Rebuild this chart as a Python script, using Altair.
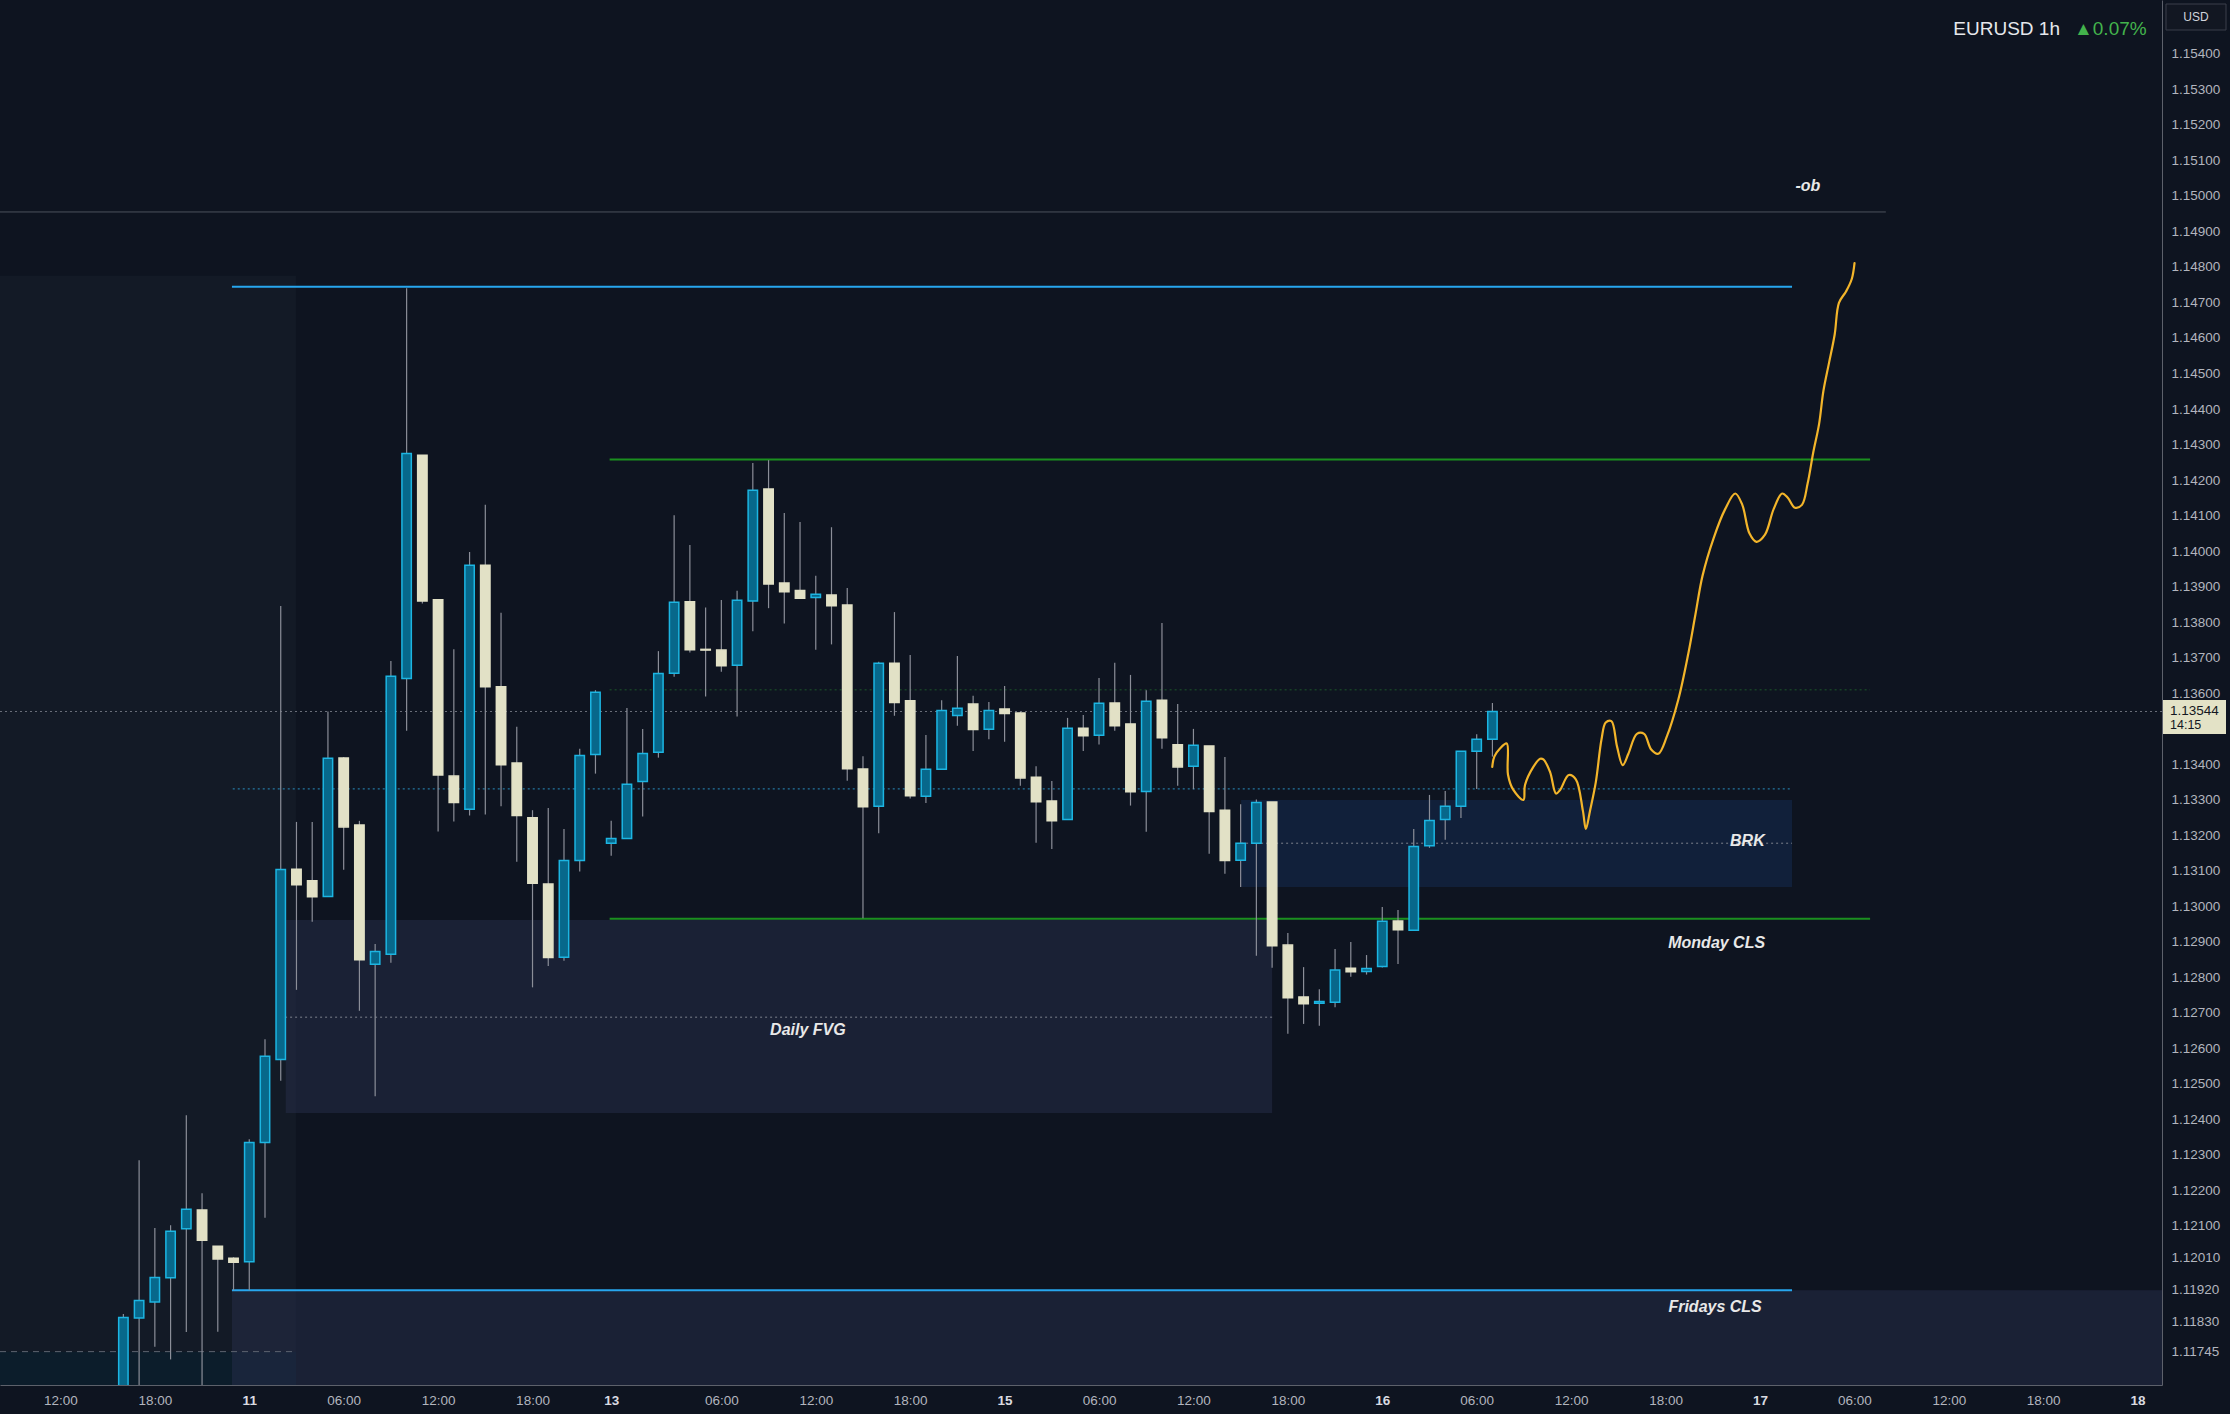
import json
import altair as alt
import pandas as pd

BG = "#0e1420"
FONT = "Liberation Sans"

# ---------------- candle data (bar index = trading hours since Thu 12:00) ----------------
bar_index = list(range(4, 92))
opens = [1.11600, 1.11840, 1.11885, 1.11953, 1.12091, 1.12144, 1.12042, 1.12008, 1.11998, 1.12334,
         1.12568, 1.13104, 1.13071, 1.13027, 1.13417, 1.13228, 1.12836, 1.12864, 1.13641, 1.14270,
         1.13863, 1.13366, 1.13273, 1.13960, 1.13618, 1.13403, 1.13249, 1.13062, 1.12856, 1.13128,
         1.13427, 1.13177, 1.13190, 1.13351, 1.13433, 1.13656, 1.13857, 1.13723, 1.13721, 1.13678,
         1.13859, 1.14175, 1.13910, 1.13889, 1.13869, 1.13876, 1.13848, 1.13386, 1.13281, 1.13684,
         1.13578, 1.13309, 1.13385, 1.13537, 1.13569, 1.13498, 1.13555, 1.13544, 1.13363, 1.13296,
         1.13244, 1.13501, 1.13481, 1.13572, 1.13513, 1.13323, 1.13580, 1.13454, 1.13394, 1.13451,
         1.13270, 1.13129, 1.13177, 1.13293, 1.12890, 1.12744, 1.12726, 1.12729, 1.12825, 1.12816,
         1.12830, 1.12958, 1.12932, 1.13170, 1.13244, 1.13281, 1.13436, 1.13470]
highs = [1.11851, 1.12284, 1.12093, 1.12101, 1.12411, 1.12191, 1.12042, 1.12011, 1.12343, 1.12625,
         1.13845, 1.13237, 1.13237, 1.13548, 1.13420, 1.13240, 1.12893, 1.13690, 1.14740, 1.14270,
         1.13863, 1.13723, 1.13997, 1.14130, 1.13826, 1.13505, 1.13270, 1.13276, 1.13217, 1.13443,
         1.13608, 1.13240, 1.13558, 1.13499, 1.13718, 1.14101, 1.14017, 1.13841, 1.13862, 1.13888,
         1.14248, 1.14256, 1.14107, 1.14082, 1.13930, 1.14067, 1.13896, 1.13422, 1.13688, 1.13828,
         1.13707, 1.13482, 1.13580, 1.13704, 1.13592, 1.13575, 1.13620, 1.13547, 1.13394, 1.13352,
         1.13530, 1.13538, 1.13642, 1.13685, 1.13651, 1.13608, 1.13797, 1.13569, 1.13499, 1.13451,
         1.13420, 1.13287, 1.13300, 1.13293, 1.12924, 1.12828, 1.12766, 1.12879, 1.12899, 1.12862,
         1.12997, 1.12989, 1.13217, 1.13313, 1.13324, 1.13436, 1.13484, 1.13572]
lows = [1.11550, 1.11580, 1.11759, 1.11723, 1.11800, 1.11580, 1.11801, 1.11918, 1.11918, 1.12122,
        1.12508, 1.12764, 1.12956, 1.13027, 1.13102, 1.12705, 1.12464, 1.12840, 1.13494, 1.13852,
        1.13210, 1.13238, 1.13255, 1.13258, 1.13281, 1.13125, 1.12771, 1.12831, 1.12846, 1.13097,
        1.13373, 1.13142, 1.13190, 1.13252, 1.13418, 1.13646, 1.13714, 1.13590, 1.13660, 1.13534,
        1.13774, 1.13839, 1.13796, 1.13867, 1.13722, 1.13737, 1.13353, 1.12966, 1.13205, 1.13536,
        1.13303, 1.13290, 1.13385, 1.13508, 1.13437, 1.13470, 1.13463, 1.13339, 1.13178, 1.13161,
        1.13244, 1.13437, 1.13455, 1.13494, 1.13283, 1.13209, 1.13443, 1.13339, 1.13329, 1.13147,
        1.13091, 1.13054, 1.12860, 1.12826, 1.12640, 1.12668, 1.12663, 1.12715, 1.12801, 1.12807,
        1.12827, 1.12837, 1.12932, 1.13164, 1.13187, 1.13248, 1.13330, 1.13421]
closes = [1.11841, 1.11889, 1.11954, 1.12084, 1.12146, 1.12059, 1.12006, 1.11997, 1.12334, 1.12577,
          1.13103, 1.13060, 1.13026, 1.13416, 1.13223, 1.12849, 1.12872, 1.13647, 1.14275, 1.13859,
          1.13369, 1.13292, 1.13960, 1.13618, 1.13398, 1.13255, 1.13064, 1.12855, 1.13128, 1.13424,
          1.13602, 1.13190, 1.13343, 1.13430, 1.13655, 1.13856, 1.13722, 1.13721, 1.13677, 1.13861,
          1.14171, 1.13907, 1.13885, 1.13867, 1.13878, 1.13846, 1.13387, 1.13280, 1.13684, 1.13573,
          1.13311, 1.13385, 1.13551, 1.13557, 1.13497, 1.13551, 1.13542, 1.13361, 1.13294, 1.13240,
          1.13501, 1.13480, 1.13571, 1.13508, 1.13322, 1.13577, 1.13474, 1.13392, 1.13453, 1.13266,
          1.13128, 1.13177, 1.13292, 1.12888, 1.12742, 1.12725, 1.12731, 1.12820, 1.12815, 1.12824,
          1.12957, 1.12933, 1.13168, 1.13241, 1.13281, 1.13436, 1.13470, 1.13548]

# ---------------- axis ticks ----------------
xtick_vals = [0, 6, 12, 18, 24, 30, 35, 42, 48, 54, 60, 66, 72, 78, 84, 90, 96, 102, 108, 114, 120, 126, 132]
xtick_text = ["12:00", "18:00", "11", "06:00", "12:00", "18:00", "13", "06:00", "12:00", "18:00", "15",
              "06:00", "12:00", "18:00", "16", "06:00", "12:00", "18:00", "17", "06:00", "12:00", "18:00", "18"]
day_ticks = [12, 35, 60, 84, 108, 132]
ytick_vals = [1.154, 1.153, 1.152, 1.151, 1.150, 1.149, 1.148, 1.147, 1.146, 1.145, 1.144, 1.143,
              1.142, 1.141, 1.140, 1.139, 1.138, 1.137, 1.136, 1.134, 1.133, 1.132, 1.131, 1.130,
              1.129, 1.128, 1.127, 1.126, 1.125, 1.124, 1.123, 1.122, 1.121, 1.1201, 1.1192, 1.1183, 1.11745]

# ---------------- zones ----------------
zone_names = ["left", "teal", "fridays", "fvg", "brk"]
zone_x0 = [-3.84, -3.84, 10.9, 14.32, 75.03]
zone_x1 = [14.97, 14.97, 133.55, 77.0, 110.04]
zone_lo = [1.1100, 1.1100, 1.1100, 1.12417, 1.13054]
zone_hi = [1.14775, 1.11745, 1.11918, 1.12961, 1.13299]

# ---------------- horizontal levels ----------------
solid_names = ["ob", "high", "green_top", "monday", "fridays"]
solid_price = [1.14955, 1.14744, 1.14258, 1.12964, 1.11918]
solid_x0 = [-3.84, 10.9, 34.9, 34.9, 10.9]
solid_x1 = [116.0, 110.04, 115.0, 115.0, 110.04]

dot_names = ["green_dot", "last_price", "blue_dot", "brk_mid", "fvg_mid"]
dot_price = [1.13609, 1.13548, 1.13330, 1.13177, 1.12687]
dot_x0 = [34.9, -3.84, 10.95, 75.03, 13.96]
dot_x1 = [115.0, 133.55, 110.04, 110.04, 77.0]

dash_price = [1.11745]
dash_x0 = [-3.84]
dash_x1 = [14.8]

# ---------------- annotations ----------------
label_text = ["-ob", "BRK", "Monday CLS", "Daily FVG", "Fridays CLS"]
label_x = [111.05, 107.2, 105.25, 47.5, 105.15]
label_y = [1.15028, 1.13184, 1.12896, 1.12651, 1.11870]

# ---------------- projected path ----------------
proj_x = [90.99, 91.12, 91.48, 91.91, 91.99, 92.33, 92.97, 93.07, 93.60, 94.03, 94.24, 94.66, 95.04, 95.30,
          95.85, 96.30, 96.75, 96.94, 97.20, 97.57, 97.93, 98.20, 98.56, 98.92, 99.28, 99.64, 100.18,
          100.64, 101.09, 101.54, 102.08, 102.81, 103.44, 103.90, 104.35, 105.07, 105.79, 106.43, 106.88,
          107.33, 107.78, 108.32, 108.87, 109.41, 109.77, 110.22, 110.67, 111.03, 111.39, 111.76, 112.03,
          112.39, 112.75, 113.02, 113.47, 113.84, 114.01]
proj_y = [1.13392, 1.13421, 1.13444, 1.13458, 1.13370, 1.13327, 1.13299, 1.13341, 1.13392, 1.13415,
          1.13413, 1.13378, 1.13317, 1.13327, 1.13369, 1.13357, 1.13268, 1.13217, 1.13268, 1.13349,
          1.13469, 1.13517, 1.13521, 1.13449, 1.13397, 1.13429, 1.13485, 1.13485, 1.13441, 1.13429,
          1.13477, 1.13581, 1.13709, 1.13821, 1.13930, 1.14038, 1.14118, 1.14162, 1.14130, 1.14050,
          1.14026, 1.14046, 1.14118, 1.14162, 1.14150, 1.14122, 1.14130, 1.14190, 1.14278, 1.14358,
          1.14450, 1.14530, 1.14610, 1.14699, 1.14731, 1.14767, 1.14811]

symbol_text = "EURUSD 1h"
change_text = "▲0.07%"
last_price = 1.13544
countdown = "14:15"
currency = "USD"

# ---------------- build ----------------
candles = pd.DataFrame(dict(i=bar_index, o=opens, h=highs, l=lows, c=closes))
zones = pd.DataFrame(dict(name=zone_names, x0=zone_x0, x1=zone_x1, lo=zone_lo, hi=zone_hi))
zone_style = {"left": ("#131a26", 1.0), "teal": ("#0c1d2b", 1.0), "fridays": ("#2b3050", 0.45),
              "fvg": ("#2b3050", 0.45), "brk": ("#11203a", 1.0)}
zones["color"] = [zone_style[n][0] for n in zone_names]
zones["op"] = [zone_style[n][1] for n in zone_names]

solid = pd.DataFrame(dict(name=solid_names, p=solid_price, x0=solid_x0, x1=solid_x1))
solid_style = {"ob": ("#4c515c", 1.0), "high": ("#27a6ee", 2.0), "green_top": ("#1b8f1f", 2.0),
               "monday": ("#1b8f1f", 2.0), "fridays": ("#27a6ee", 2.0)}
solid["color"] = [solid_style[n][0] for n in solid_names]
solid["w"] = [solid_style[n][1] for n in solid_names]

dots = pd.DataFrame(dict(name=dot_names, p=dot_price, x0=dot_x0, x1=dot_x1))
dot_style = {"green_dot": "#1d5a2a", "last_price": "#6a6f7a", "blue_dot": "#2a8ec0",
             "brk_mid": "#7d828d", "fvg_mid": "#7d828d"}
dots["color"] = [dot_style[n] for n in dot_names]

dash = pd.DataFrame(dict(p=dash_price, x0=dash_x0, x1=dash_x1))
labels = pd.DataFrame(dict(t=label_text, x=label_x, y=label_y))
proj = pd.DataFrame(dict(ord=list(range(len(proj_x))), x=proj_x, y=proj_y))

xs = alt.Scale(domain=[-3.84, 133.55], nice=False, zero=False, padding=0)
ys = alt.Scale(domain=[1.11651, 1.15552], nice=False, zero=False, padding=0)

label_map = {str(v): t for v, t in zip(xtick_vals, xtick_text)}
label_expr = json.dumps(label_map) + "[datum.value]"
day_test = "indexof(" + json.dumps(day_ticks) + ", datum.value) >= 0"

x_axis = alt.Axis(values=xtick_vals, labelExpr=label_expr, grid=False, ticks=False,
                  domainColor="#5d616b", domainWidth=1,
                  labelColor={"condition": {"test": day_test, "value": "#d9dbe0"}, "value": "#b2b5be"},
                  labelFontWeight={"condition": {"test": day_test, "value": "bold"}, "value": "normal"},
                  labelFont=FONT, labelFontSize=13.5, labelPadding=8, title=None,
                  labelFlush=False, labelOverlap=False)
y_axis = alt.Axis(orient="right", values=ytick_vals, format=".5f", grid=False, ticks=False,
                  domainColor="#5d616b", domainWidth=1, labelColor="#b2b5be", labelFont=FONT,
                  labelFontSize=13.5, labelPadding=9, title=None, labelFlush=False, labelOverlap=False)


def X(field):
    return alt.X(field, scale=xs, axis=x_axis)


def Y(field):
    return alt.Y(field, scale=ys, axis=y_axis)


zone_layer = alt.Chart(zones).mark_rect(clip=True).encode(
    x=X("x0:Q"), x2="x1:Q", y=Y("lo:Q"), y2="hi:Q",
    color=alt.Color("color:N", scale=None), opacity=alt.Opacity("op:Q", scale=None))

solid_layer = alt.Chart(solid).mark_rule(clip=True).encode(
    x=X("x0:Q"), x2="x1:Q", y=Y("p:Q"),
    color=alt.Color("color:N", scale=None), strokeWidth=alt.StrokeWidth("w:Q", scale=None))

dot_layer = alt.Chart(dots).mark_rule(clip=True, strokeDash=[2, 3], strokeWidth=1).encode(
    x=X("x0:Q"), x2="x1:Q", y=Y("p:Q"),
    color=alt.Color("color:N", scale=None))

dash_layer = alt.Chart(dash).mark_rule(clip=True, strokeDash=[6, 5], strokeWidth=1, color="#5d6470").encode(
    x=X("x0:Q"), x2="x1:Q", y=Y("p:Q"))

wick_layer = alt.Chart(candles).mark_rule(clip=True, color="#8b8e98", strokeWidth=1.2).encode(
    x=X("i:Q"), y=Y("l:Q"), y2="h:Q")

up = "datum.c >= datum.o"
body_layer = alt.Chart(candles).mark_bar(clip=True, size=9.4, strokeWidth=1.5).encode(
    x=X("i:Q"), y=Y("o:Q"), y2="c:Q",
    fill=alt.condition(up, alt.value("#07688b"), alt.value("#e2e1c6")),
    stroke=alt.condition(up, alt.value("#1cb5e2"), alt.value("#e2e1c6")))

label_layer = alt.Chart(labels).mark_text(font=FONT, fontSize=16, fontStyle="italic", fontWeight="bold",
                                          color="#e8e8e8", baseline="middle").encode(
    x=X("x:Q"), y=Y("y:Q"), text="t:N")

proj_layer = alt.Chart(proj).mark_line(clip=True, color="#f3b52a", strokeWidth=2.2, interpolate="catmull-rom",
                                       strokeJoin="round", strokeCap="round").encode(
    x=X("x:Q"), y=Y("y:Q"), order="ord:Q")

# header texts
head = pd.DataFrame(dict(s=[symbol_text], c=[change_text]))
sym_layer = alt.Chart(head).mark_text(font=FONT, fontSize=19, color="#e6e8ec", align="right",
                                      baseline="alphabetic").encode(
    x=alt.value(2060), y=alt.value(35), text="s:N")
chg_layer = alt.Chart(head).mark_text(font=FONT, fontSize=19, color="#43b34c", align="left",
                                      baseline="alphabetic").encode(
    x=alt.value(2074), y=alt.value(35), text="c:N")

# currency box
cur = pd.DataFrame(dict(t=[currency]))
cur_box = alt.Chart(cur).mark_point(shape="M-1,-0.433L1,-0.433L1,0.433L-1,0.433Z", size=3600,
                                    filled=True, fill="#121722", stroke="#3a3e4a", strokeWidth=1,
                                    opacity=1).encode(x=alt.value(2196), y=alt.value(17))
cur_txt = alt.Chart(cur).mark_text(font=FONT, fontSize=12, color="#d1d4dc", baseline="middle").encode(
    x=alt.value(2196), y=alt.value(17), text="t:N")

# last price tag
tag = pd.DataFrame(dict(p=[last_price], t=["%.5f" % last_price], cd=[countdown]))
tag_box = alt.Chart(tag).mark_point(shape="M-1,-0.54L1,-0.54L1,0.54L-1,0.54Z", size=3969,
                                    filled=True, fill="#e3e2c6", strokeWidth=0, opacity=1,
                                    yOffset=4).encode(
    x=alt.value(2194.5), y=Y("p:Q"))
tag_txt = alt.Chart(tag).mark_text(font=FONT, fontSize=13.5, color="#131722", align="left",
                                   baseline="middle", dy=-2).encode(
    x=alt.value(2170), y=Y("p:Q"), text="t:N")
tag_cd = alt.Chart(tag).mark_text(font=FONT, fontSize=12.5, color="#131722", align="left",
                                  baseline="middle", dy=12).encode(
    x=alt.value(2170), y=Y("p:Q"), text="cd:N")

chart = alt.layer(
    zone_layer, dash_layer, dot_layer, solid_layer, wick_layer, body_layer,
    label_layer, proj_layer, sym_layer, chg_layer, cur_box, cur_txt, tag_box, tag_txt, tag_cd
).properties(
    width=2162, height=1385,
    padding={"left": 0, "top": 0, "right": 68, "bottom": 29},
    autosize=alt.AutoSizeParams(type="none"),
    background=BG,
).configure_view(strokeWidth=0)

chart.save("out.html", embed_options={"renderer": "svg", "actions": False})
